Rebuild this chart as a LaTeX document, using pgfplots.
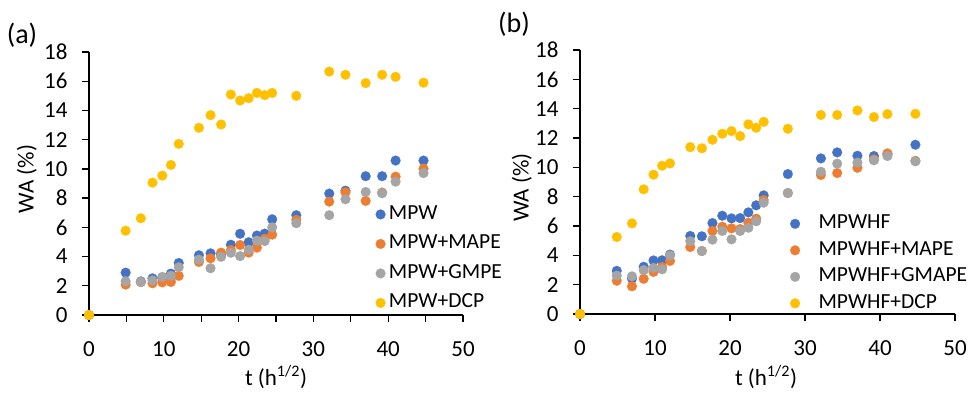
\documentclass[border=0pt]{standalone}
\usepackage{fontspec}
\setmainfont{Carlito}
\usepackage{pgfplots}
\pgfplotsset{compat=1.18}
\definecolor{cblue}{HTML}{4472C4}
\definecolor{corange}{HTML}{ED7D31}
\definecolor{cgray}{HTML}{A5A5A5}
\definecolor{cyellow}{HTML}{FFC000}

\pgfplotstableread{
x     b      o      g      y
0     0      0      0      0
4.90  2.90   2.08   2.31   5.77
6.93  2.30   2.25   2.26   6.62
8.49  2.51   2.17   2.37   9.06
9.80  2.55   2.23   2.61   9.54
10.95 2.83   2.26   2.69   10.27
12.00 3.56   2.68   3.27   11.71
14.70 4.09   3.63   3.79   12.81
16.25 4.22   3.88   3.20   13.68
17.66 4.15   4.27   3.98   13.04
18.97 4.81   4.45   4.26   15.09
20.20 5.56   4.79   4.03   14.68
21.35 4.98   4.27   4.47   14.84
22.45 5.44   4.61   5.09   15.20
23.49 5.57   5.22   5.06   15.05
24.49 6.55   5.50   6.00   15.20
27.71 6.83   6.51   6.28   15.00
32.12 8.31   7.76   6.83   16.66
34.29 8.51   8.40   7.92   16.44
36.99 9.50   7.81   8.42   15.87
39.19 9.50   8.38   8.33   16.44
40.99 10.57  9.47   9.13   16.30
44.72 10.57  10.02  9.71   15.90
}\tableA

\pgfplotstableread{
x     b      o      g      y
0     0      0      0      0
4.90  2.94   2.27   2.62   5.25
6.93  2.41   1.89   2.57   6.18
8.49  3.22   2.40   2.99   8.50
9.80  3.65   2.87   3.14   9.50
10.95 3.66   3.20   3.05   10.11
12.00 4.05   3.62   3.99   10.27
14.70 5.32   4.57   4.96   11.38
16.25 5.30   4.30   4.29   11.30
17.66 6.20   5.66   5.07   11.88
18.97 6.70   5.95   5.66   12.29
20.20 6.52   5.84   5.09   12.47
21.35 6.54   5.79   5.66   12.13
22.45 6.93   6.22   5.88   12.93
23.49 7.41   6.50   6.32   12.70
24.49 8.09   7.77   7.59   13.10
27.71 9.54   8.25   8.25   12.63
32.12 10.61  9.48   9.70   13.57
34.29 11.02  9.61   10.25  13.57
36.99 10.79  9.97   10.32  13.88
39.19 10.77  10.54  10.48  13.43
40.99 10.90  10.95  10.77  13.63
44.72 11.54  10.45  10.41  13.65
}\tableB

\pgfplotsset{
  myax/.style={
    scale only axis,
    xmin=0, xmax=50, ymin=0, ymax=18,
    axis x line=bottom, axis y line=left,
    axis line style={-, line width=1.3pt, black},
    tick align=outside,
    major tick length=7pt,
    tick style={line width=1.3pt, black},
    ytick={0,2,...,18},
    clip=false,
    /pgf/number format/assume math mode=true,
    tick label style={font=\fontsize{23}{27}\selectfont},
    xticklabel style={yshift=-16pt},
    yticklabel style={xshift=-11pt},
    label style={font=\fontsize{23}{27}\selectfont},
    xlabel={t (h\textsuperscript{1/2})},
    ylabel={WA (\%)},
    legend cell align=left,
  },
  dot/.style={only marks, mark=*, mark size=4.9pt, color=#1, mark options={draw=#1, fill=#1, line width=0.2pt}},
}

\begin{document}
\begin{tikzpicture}[x=1pt,y=1pt]
\path[use as bounding box] (0,0) rectangle (968,392);

\begin{axis}[myax,
  at={(89pt,77pt)}, anchor=south west,
  width=374pt, height=263pt,
  xtick={0,5,...,50}, xticklabels={0,,10,,20,,30,,40,,50},
  xlabel style={at={(axis description cs:0.5,-0.236)}, anchor=center},
  ylabel style={at={(axis description cs:-0.166,0.517)}, anchor=center, rotate=0},
  legend style={draw=none, fill=none, at={(axis description cs:0.758,0.425)}, anchor=north west,
    font=\fontsize{21.5}{25}\selectfont, row sep=11.5pt,
    nodes={inner sep=0pt, text height=14pt, text depth=4pt},
    /tikz/every odd column/.append style={column sep=3.5pt}},
]
\addplot[dot=cblue] table[x=x,y=b] {\tableA};
\addplot[dot=corange] table[x=x,y=o] {\tableA};
\addplot[dot=cgray] table[x=x,y=g] {\tableA};
\addplot[dot=cyellow] table[x=x,y=y] {\tableA};
\legend{MPW, MPW+MAPE, MPW+GMPE, MPW+DCP}
\end{axis}

\begin{axis}[myax,
  at={(580pt,78pt)}, anchor=south west,
  width=375pt, height=264pt,
  xtick={0,10,...,50},
  xlabel style={at={(axis description cs:0.496,-0.238)}, anchor=center},
  ylabel style={at={(axis description cs:-0.155,0.48)}, anchor=center, rotate=0},
  legend style={draw=none, fill=none, at={(axis description cs:0.552,0.384)}, anchor=north west,
    font=\fontsize{21.5}{25}\selectfont, row sep=8.5pt,
    nodes={inner sep=0pt, text height=14pt, text depth=4pt},
    /tikz/every odd column/.append style={column sep=18.5pt}},
]
\addplot[dot=cblue] table[x=x,y=b] {\tableB};
\addplot[dot=corange] table[x=x,y=o] {\tableB};
\addplot[dot=cgray] table[x=x,y=g] {\tableB};
\addplot[dot=cyellow] table[x=x,y=y] {\tableB};
\legend{MPWHF, MPWHF+MAPE, MPWHF+GMAPE, MPWHF+DCP}
\end{axis}

\node[font=\fontsize{28}{32}\selectfont] at (22pt,357pt) {(a)};
\node[font=\fontsize{28}{32}\selectfont] at (514pt,368pt) {(b)};
\end{tikzpicture}
\end{document}
